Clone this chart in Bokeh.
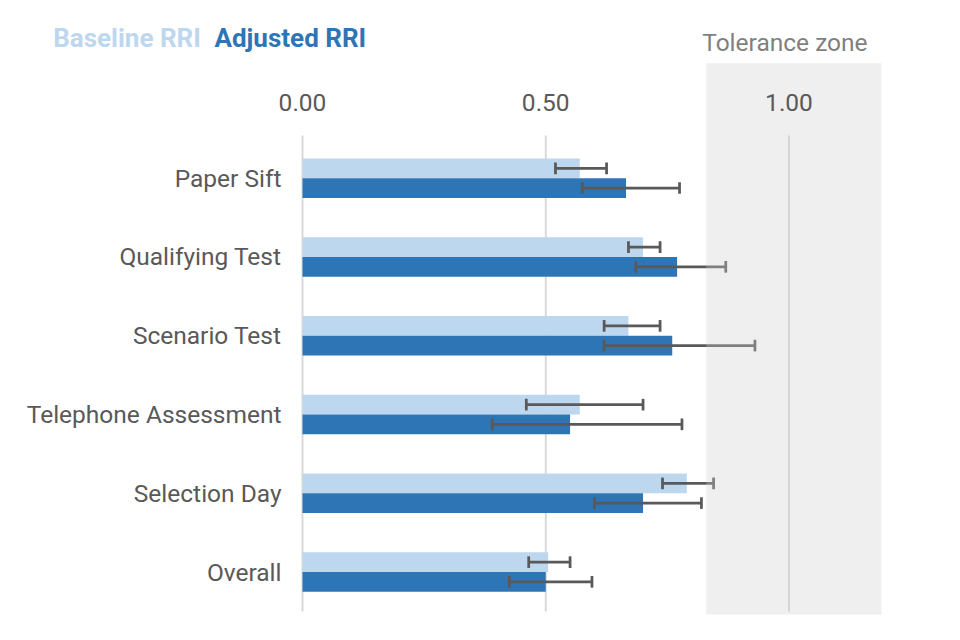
from bokeh.plotting import figure
from bokeh.models import Range1d, FixedTicker, NumeralTickFormatter, Label
from bokeh.embed import file_html
from bokeh.resources import INLINE

# ---------------- data ----------------
categories = ["Paper Sift", "Qualifying Test", "Scenario Test",
              "Telephone Assessment", "Selection Day", "Overall"]
baseline    = [0.57, 0.70, 0.67, 0.57, 0.79, 0.505]
baseline_lo = [0.52, 0.67, 0.62, 0.46, 0.74, 0.465]
baseline_hi = [0.625, 0.735, 0.735, 0.70, 0.845, 0.55]
adjusted    = [0.665, 0.77, 0.76, 0.55, 0.70, 0.50]
adjusted_lo = [0.575, 0.685, 0.62, 0.39, 0.60, 0.425]
adjusted_hi = [0.775, 0.87, 0.93, 0.78, 0.82, 0.595]
x_ticks = [0.0, 0.5, 1.0]
tolerance_zone = [0.83, 1.19]
series_names = ["Baseline RRI", "Adjusted RRI"]

# ---------------- layout ----------------
FONT = "Roboto"
FS = "24.5px"
FS_LEG = "26px"
W, H = 944, 624
OFF = 0
X0_PX, XU = 302.0, 486.5
Y0_PX, YU = 177.7, 78.76


def dx(px):
    return (px - X0_PX) / XU


def dy(py):
    return (py - Y0_PX) / YU


C_LIGHT = "#BDD7EE"
C_DARK = "#2E75B6"
C_TEXT = "#595959"
C_ERR = "#595959"

p = figure(width=W, height=H, output_backend="svg", toolbar_location=None,
           title=None, x_axis_location="above",
           x_range=Range1d(dx(OFF), dx(OFF + W)),
           y_range=Range1d(dy(OFF + H), dy(OFF)),
           min_border=0)
p.outline_line_color = None
p.background_fill_color = "white"
p.border_fill_color = "white"
p.xgrid.grid_line_color = None
p.ygrid.grid_line_color = None

ys = list(range(len(categories)))
yb = [y - 0.125 for y in ys]
ya = [y + 0.125 for y in ys]

# grid lines
p.segment(x0=x_ticks, x1=x_ticks, y0=dy(135), y1=dy(611),
          line_color="#D9D9D9", line_width=2)

# bars
p.hbar(y=yb, left=0, right=baseline, height=0.25, fill_color=C_LIGHT, line_color=None)
p.hbar(y=ya, left=0, right=adjusted, height=0.25, fill_color=C_DARK, line_color=None)

# error bars
cap = 0.074
for yy, lo, hi in ((yb, baseline_lo, baseline_hi), (ya, adjusted_lo, adjusted_hi)):
    p.segment(x0=lo, x1=hi, y0=yy, y1=yy, line_color=C_ERR, line_width=2.75)
    p.segment(x0=lo, x1=lo, y0=[v - cap for v in yy], y1=[v + cap for v in yy],
              line_color=C_ERR, line_width=2.75)
    p.segment(x0=hi, x1=hi, y0=[v - cap for v in yy], y1=[v + cap for v in yy],
              line_color=C_ERR, line_width=2.75)

# tolerance zone (semi-transparent, drawn over the error bars)
p.quad(left=[tolerance_zone[0]], right=[tolerance_zone[1]],
       bottom=[dy(614)], top=[dy(62.7)],
       fill_color="#CECECE", fill_alpha=0.33, line_color=None)

# y axis (categories)
ya_ax = p.yaxis[0]
ya_ax.fixed_location = 0
ya_ax.ticker = FixedTicker(ticks=ys)
ya_ax.major_label_overrides = {i: c for i, c in enumerate(categories)}
ya_ax.axis_line_color = None
ya_ax.major_tick_line_color = None
ya_ax.minor_tick_line_color = None
ya_ax.major_tick_out = 0
ya_ax.major_tick_in = 0
ya_ax.major_label_standoff = 21
ya_ax.major_label_text_font = FONT
ya_ax.major_label_text_font_size = FS
ya_ax.major_label_text_color = C_TEXT

# x axis (values)
xa_ax = p.xaxis[0]
xa_ax.fixed_location = dy(110)
xa_ax.ticker = FixedTicker(ticks=x_ticks)
xa_ax.formatter = NumeralTickFormatter(format="0.00")
xa_ax.axis_line_color = None
xa_ax.major_tick_line_color = None
xa_ax.minor_tick_line_color = None
xa_ax.major_tick_out = 0
xa_ax.major_tick_in = 0
xa_ax.major_label_standoff = 0
xa_ax.major_label_text_font = FONT
xa_ax.major_label_text_font_size = FS
xa_ax.major_label_text_color = C_TEXT

# legend texts and zone caption
p.add_layout(Label(x=dx(52.7), y=dy(37.5), text=series_names[0], text_font=FONT,
                   text_font_size=FS_LEG, text_font_style="bold",
                   text_color=C_LIGHT, text_baseline="alphabetic"))
p.add_layout(Label(x=dx(214), y=dy(37.5), text=series_names[1], text_font=FONT,
                   text_font_size=FS_LEG, text_font_style="bold",
                   text_color=C_DARK, text_baseline="alphabetic"))
p.add_layout(Label(x=dx(701.7), y=dy(41.5), text="Tolerance zone", text_font=FONT,
                   text_font_size=FS, text_color="#7F7F7F",
                   text_baseline="alphabetic"))

open("out.html", "w").write(file_html(p, INLINE))
